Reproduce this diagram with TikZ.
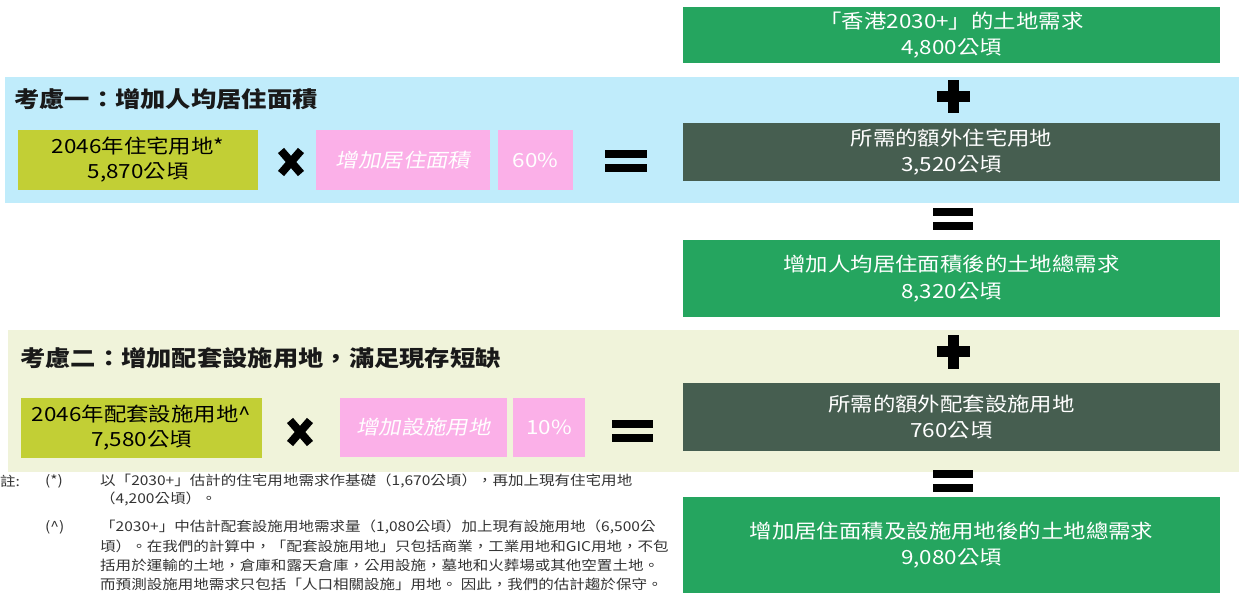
\documentclass[tikz,border=0pt]{standalone}
\usepackage{fontspec}
\setmainfont{Noto Sans CJK TC}[FakeStretch=1.15]
\newfontfamily\itfont{Noto Sans CJK TC}[FakeStretch=1.15,FakeSlant=0.2]
\definecolor{boxgreen}{HTML}{25A55F}
\definecolor{boxdark}{HTML}{465E50}
\definecolor{bandblue}{HTML}{C0ECFB}
\definecolor{bandbeige}{HTML}{F0F3DA}
\definecolor{boxolive}{HTML}{C2CF35}
\definecolor{boxpink}{HTML}{FBB0E8}
\definecolor{notegray}{HTML}{333333}
\tikzset{
  rbox/.style={anchor=north west, inner sep=0pt, outer sep=0pt, minimum width=537pt,
    text=white, align=center, font=\fontsize{19.5}{26.5}\selectfont},
  obox/.style={anchor=north west, inner sep=0pt, outer sep=0pt, fill=boxolive,
    text=black, align=center, font=\fontsize{19.5}{25}\selectfont},
  pbox/.style={anchor=north west, inner sep=0pt, outer sep=0pt, fill=boxpink,
    text=white, align=center, font=\fontsize{19.5}{25}\selectfont},
  ttl/.style={anchor=west, inner sep=0pt, font=\fontsize{22}{26}\selectfont\bfseries, text=black!90},
  note/.style={anchor=west, inner sep=0pt, font=\fontsize{13.5}{16}\selectfont, text=notegray},
  timesmark/.style={line width=8pt, black},
}
\newcommand{\plusmark}[2]{\fill[black] (#1-16.5,#2-5.5) rectangle (#1+16.5,#2+5.5);
  \fill[black] (#1-5.5,#2-16.5) rectangle (#1+5.5,#2+16.5);}
\newcommand{\eqmark}[3]{\fill[black] (#1-#3/2,#2-11) rectangle (#1+#3/2,#2-3);
  \fill[black] (#1-#3/2,#2+3) rectangle (#1+#3/2,#2+11);}
\newcommand{\xmark}[2]{\draw[timesmark] (#1-10,#2-11.5) -- (#1+10,#2+11.5);
  \draw[timesmark] (#1-10,#2+11.5) -- (#1+10,#2-11.5);}
\begin{document}
\begin{tikzpicture}[x=1pt,y=-1pt]
\useasboundingbox (0,0) rectangle (1239,593);
% bands
\fill[bandblue] (5,77) rectangle (1239,203);
\fill[bandbeige] (8,330) rectangle (1239,472);
% right column
\node[rbox, fill=boxgreen, minimum height=56pt] (demand) at (683,7) {\raisebox{-1.5pt}{「香港2030+」的土地需求}\\\raisebox{-1.5pt}{4,800公頃}};
\node[rbox, fill=boxdark, minimum height=58pt] (extra1) at (683,123) {所需的額外住宅用地\\3,520公頃};
\node[rbox, fill=boxgreen, minimum height=77pt] (total1) at (683,240) {增加人均居住面積後的土地總需求\\8,320公頃};
\node[rbox, fill=boxdark, minimum height=68pt] (extra2) at (683,383) {所需的額外配套設施用地\\760公頃};
\node[rbox, fill=boxgreen, minimum height=96pt] (total2) at (683,497) {增加居住面積及設施用地後的土地總需求\\9,080公頃};
\plusmark{953}{97}
\eqmark{953}{219}{40}
\plusmark{953}{352}
\eqmark{953}{481}{40}
% consideration 1
\node[ttl] (title1) at (14,99) {考慮一：增加人均居住面積};
\node[obox, minimum width=240pt, minimum height=60pt] (res) at (18,130) {2046年住宅用地*\\5,870公頃};
\xmark{291}{162}
\node[pbox, minimum width=174pt, minimum height=60pt] (area) at (316,130) {\itfont 增加居住面積};
\node[pbox, minimum width=75pt, minimum height=60pt] (pct1) at (498,130) {60\%};
\eqmark{626}{161}{42}
% consideration 2
\node[ttl] (title2) at (20,358) {考慮二：增加配套設施用地，滿足現存短缺};
\node[obox, minimum width=241pt, minimum height=60pt] (fac) at (21,398) {2046年配套設施用地\^{}\\7,580公頃};
\xmark{300}{432}
\node[pbox, minimum width=167pt, minimum height=59pt] (facinc) at (340,398) {\itfont 增加設施用地};
\node[pbox, minimum width=72pt, minimum height=59pt] (pct2) at (513,398) {10\%};
\eqmark{632}{431}{41}
% notes
\node[note] (nlabel) at (0,481) {註:};
\node[note] (n1mark) at (45,481) {(*)};
\node[note] (n1a) at (100,481) {以「2030+」估計的住宅用地需求作基礎（1,670公頃），再加上現有住宅用地};
\node[note] (n1b) at (100,499) {（4,200公頃）。};
\node[note] (n2mark) at (45,527) {(\^{})};
\node[note] (n2a) at (100,527) {「2030+」中估計配套設施用地需求量（1,080公頃）加上現有設施用地（6,500公};
\node[note] (n2b) at (100,546) {頃）。在我們的計算中，「配套設施用地」只包括商業，工業用地和GIC用地，不包};
\node[note] (n2c) at (100,565) {括用於運輸的土地，倉庫和露天倉庫，公用設施，墓地和火葬場或其他空置土地。};
\node[note] (n2d) at (100,584) {而預測設施用地需求只包括「人口相關設施」用地。 因此，我們的估計趨於保守。};
\end{tikzpicture}
\end{document}
